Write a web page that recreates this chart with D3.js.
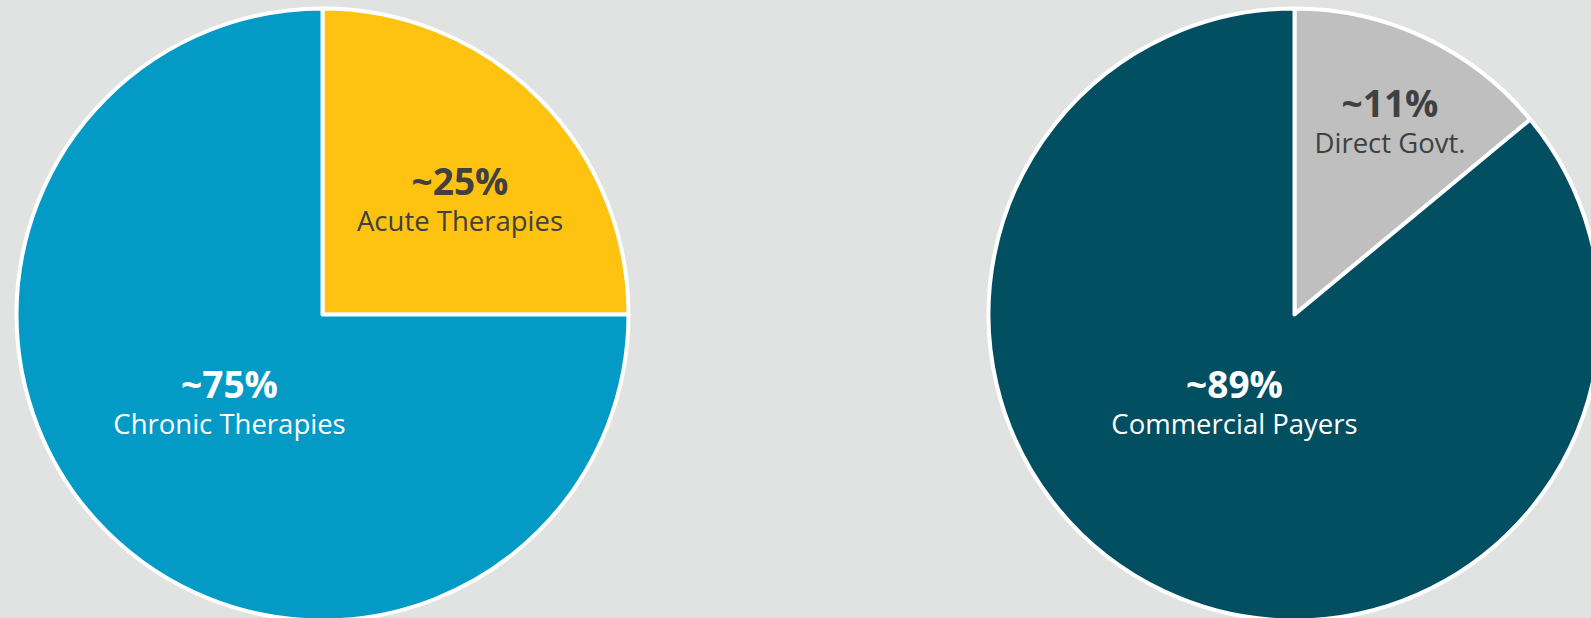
<!DOCTYPE html>
<html>
<head>
<meta charset="utf-8">
<script src="https://cdn.jsdelivr.net/npm/d3@7"></script>
<style>
  html, body { margin: 0; padding: 0; background: #e1e3e2; overflow: hidden; }
  svg { display: block; }
  text { font-family: "Open Sans", "Noto Sans", sans-serif; }
</style>
</head>
<body>
<div class="chart_container"></div>
<script>
// Therapy mix (left pie)
const therapyCategories = ["Acute Therapies", "Chronic Therapies"];
const therapyValues = [25, 75];
const therapyLabels = ["~25%", "~75%"];

// Payer mix (right pie) - slice angles as drawn in the picture
const payerCategories = ["Direct Govt.", "Commercial Payers"];
const payerValues = [14, 86];
const payerLabels = ["~11%", "~89%"];

const width = 1591;
const height = 618;
const radius = 306;

const pies = [
  {
    cx: 322.5, cy: 314.5,
    categories: therapyCategories, values: therapyValues, labels: therapyLabels,
    colors: ["#fec311", "#039ac6"],
    textColors: ["#404040", "#ffffff"],
    offsets: [[137.5, -120], [-93, 83]]
  },
  {
    cx: 1294.5, cy: 314.5,
    categories: payerCategories, values: payerValues, labels: payerLabels,
    colors: ["#bfbfbf", "#024f62"],
    textColors: ["#404040", "#ffffff"],
    offsets: [[95.5, -198], [-60, 83]]
  }
];

drawPies();

function drawPies() {
  const container = document.querySelector('div.chart_container');
  container.innerHTML = `<svg width=${width} height=${height}></svg>`;
  const svg = d3.select(container).select('svg');

  const pie = d3.pie().sort(null).value(d => d);
  const arc = d3.arc().innerRadius(0).outerRadius(radius);

  pies.forEach(p => {
    const g = svg.append('g').attr('transform', `translate(${p.cx},${p.cy})`);

    g.selectAll('path')
      .data(pie(p.values)).enter().append('path')
      .attr('d', arc)
      .attr('fill', (d, i) => p.colors[i])
      .attr('stroke', '#ffffff')
      .attr('stroke-width', 4)
      .attr('stroke-linejoin', 'round');

    const lbl = g.selectAll('g.lbl')
      .data(p.categories).enter().append('g')
      .attr('class', 'lbl')
      .attr('transform', (d, i) => `translate(${p.offsets[i][0]},${p.offsets[i][1]})`);

    lbl.append('text')
      .attr('text-anchor', 'middle')
      .attr('font-size', 37)
      .attr('font-weight', 'bold')
      .attr('fill', (d, i) => p.textColors[i])
      .text((d, i) => p.labels[i]);

    lbl.append('text')
      .attr('text-anchor', 'middle')
      .attr('y', 36)
      .attr('font-size', 27.5)
      .attr('fill', (d, i) => p.textColors[i])
      .text(d => d);
  });
}
</script>
</body>
</html>
